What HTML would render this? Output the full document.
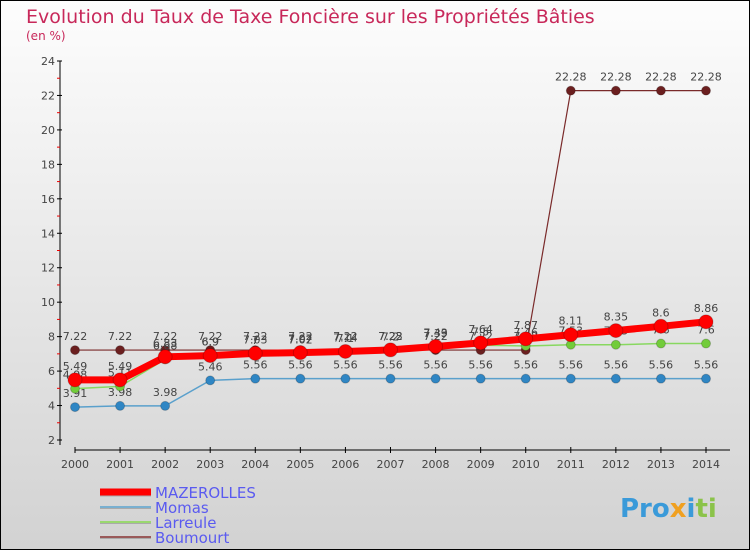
<!DOCTYPE html>
<html><head><meta charset="utf-8"><style>
body{margin:0;width:750px;height:550px;overflow:hidden;font-family:"DejaVu Sans","Liberation Sans",sans-serif}
</style></head><body>
<svg width="750" height="550" id="svg" xmlns="http://www.w3.org/2000/svg">
<defs><linearGradient id="bg" x1="0" y1="0" x2="0" y2="1"><stop offset="0" stop-color="#fdfdfd"/><stop offset="1" stop-color="#d2d2d2"/></linearGradient></defs>
<rect x="0.5" y="0.5" width="749" height="549" fill="url(#bg)" stroke="#000"/>
<text x="26" y="23" font-size="19" fill="#c8285a">Evolution du Taux de Taxe Foncière sur les Propriétés Bâties</text>
<text x="26" y="40" font-size="12" fill="#c8285a">(en %)</text>
<g id="g"></g>
<text x="620" y="517" font-size="26" font-weight="bold" fill="#3a9ad9">Pro<tspan fill="#f0a020">x</tspan><tspan fill="#3a9ad9">i</tspan><tspan fill="#8bc34a">ti</tspan></text>
</svg>
<script>
const years=[2000,2001,2002,2003,2004,2005,2006,2007,2008,2009,2010,2011,2012,2013,2014];
const yTicks=[2,4,6,8,10,12,14,16,18,20,22,24];
const mazerolles=[5.49,5.49,6.83,6.9,7.03,7.07,7.14,7.23,7.43,7.64,7.87,8.11,8.35,8.6,8.86];
const momas=[3.91,3.98,3.98,5.46,5.56,5.56,5.56,5.56,5.56,5.56,5.56,5.56,5.56,5.56,5.56];
const larreule=[4.98,5.11,6.68,6.9,7.0,7.02,7.1,7.2,7.39,7.5,7.46,7.53,7.53,7.6,7.6];
const boumourt=[7.22,7.22,7.22,7.22,7.22,7.22,7.22,7.22,7.22,7.22,7.22,22.28,22.28,22.28,22.28];
const NS="http://www.w3.org/2000/svg",g=document.getElementById('g');
const xs=i=>75+i*(631/14), ys=v=>440-(v-2)*(379/22);
function el(t,a,p){const e=document.createElementNS(NS,t);for(const k in a)e.setAttribute(k,a[k]);(p||g).appendChild(e);return e;}
function tx(x,y,s,sz,fill,anchor){const e=el('text',{x:x,y:y,'font-size':sz,fill:fill,'text-anchor':anchor||'middle'});e.textContent=s;return e;}
// axes
let a=el('line',{x1:60,y1:61,x2:60,y2:445,stroke:'#000'});
a=el('line',{x1:75,y1:450,x2:730,y2:450,stroke:'#000'});
yTicks.forEach(v=>{el('line',{x1:57,y1:ys(v),x2:62,y2:ys(v),stroke:'#000'});const t=tx(55,ys(v)+4,v,11,'#444','end');
 if(v<24)el('line',{x1:57,y1:ys(v+1),x2:60,y2:ys(v+1),stroke:'#e00'});});
years.forEach((y,i)=>{el('line',{x1:xs(i),y1:447,x2:xs(i),y2:453,stroke:'#000'});const t=tx(xs(i),468,y,11,'#444');});
const series=[[boumourt,'#7a2a2a',1.2,4.5,'#6b1f1f','boumourt'],[momas,'#5aa0cc',1.5,4.5,'#2f86c4','momas'],[larreule,'#88d860',1.5,4.5,'#72cc3a','larreule'],[mazerolles,'#ff0000',7,7,'#ff0000','mazerolles']];
series.forEach(([d,c,w,r,dc,n])=>{
 const p=el('polyline',{points:d.map((v,i)=>xs(i)+','+ys(v)).join(' '),fill:'none',stroke:c,'stroke-width':w});
 
 d.forEach((v,i)=>{const m=el('circle',{cx:xs(i),cy:ys(v),r:r,fill:dc,stroke:'rgba(0,0,0,0.2)'});
  const t=tx(xs(i),ys(v)-10,v,11,'#444');});
});
// legend
const leg=[['MAZEROLLES','#ff0000',7],['Momas','#7ab0d0',2],['Larreule','#9ad870',2],['Boumourt','#9a5a5a',2]];
leg.forEach(([n,c,w],i)=>{const y=492+i*15;el('line',{x1:100,y1:y+1,x2:151,y2:y+1,stroke:'#aaa','stroke-width':w});el('line',{x1:100,y1:y,x2:151,y2:y,stroke:c,'stroke-width':w});
 const t=tx(155,y+6,n,15,'#5a5af0','start');});
</script>
</body></html>
